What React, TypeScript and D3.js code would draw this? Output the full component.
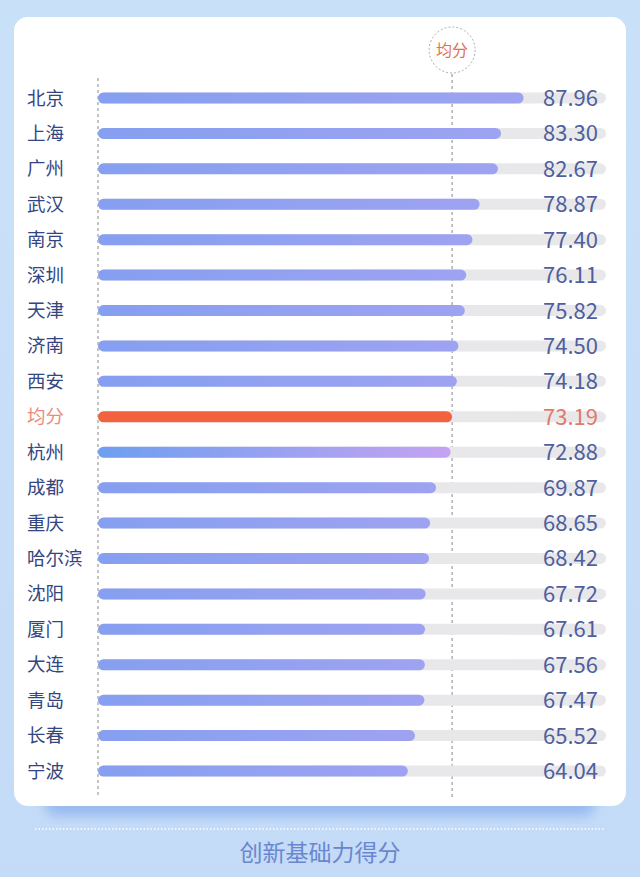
import React from "react";
import * as d3 from "d3";

const cities = ["北京","上海","广州","武汉","南京","深圳","天津","济南","西安","均分","杭州","成都","重庆","哈尔滨","沈阳","厦门","大连","青岛","长春","宁波"];
const scores = [87.96,83.30,82.67,78.87,77.40,76.11,75.82,74.50,74.18,73.19,72.88,69.87,68.65,68.42,67.72,67.61,67.56,67.47,65.52,64.04];
const avgLabel = "均分";
const avgValue = 73.19;
const highlightCity = "杭州";
const title = "创新基础力得分";

const W = 640, H = 877;
const FONT = "'Noto Sans CJK SC', 'Noto Sans', sans-serif";

export default function App() {
  const x = d3.scaleLinear().domain([0, 105]).range([98, 606]);
  const y = d3.scalePoint<string>().domain(cities).range([98, 771]);
  const barH = 11;
  return (
    <div style={{ position: "absolute", left: 0, top: 0 }}>
      <svg width={W} height={H} style={{ display: "block" }}>
        <defs>
          <linearGradient id="bg" x1="0" y1="0" x2="0" y2="1">
            <stop offset="0" stopColor="#c9e1f8" />
            <stop offset="1" stopColor="#c3dbf6" />
          </linearGradient>
          <linearGradient id="barG" x1="0" y1="0" x2="1" y2="0">
            <stop offset="0" stopColor="#869ff0" />
            <stop offset="1" stopColor="#9ea3f1" />
          </linearGradient>
          <linearGradient id="hiG" x1="0" y1="0" x2="1" y2="0">
            <stop offset="0" stopColor="#6e9ff0" />
            <stop offset="1" stopColor="#c4a3f2" />
          </linearGradient>
          <filter id="sh" x="-10%" y="-30%" width="120%" height="160%">
            <feGaussianBlur stdDeviation="6" />
          </filter>
        </defs>
        <rect x={0} y={0} width={W} height={H} fill="url(#bg)" />
        <rect x={45} y={790} width={550} height={26} rx={12} fill="#98b9f2" filter="url(#sh)" />
        <rect x={14} y={17} width={612} height={789} rx={14} fill="#ffffff" />
        <line x1={x(0)} x2={x(0)} y1={78} y2={797} stroke="#888" strokeWidth={1} strokeDasharray="3,3" />
        <line x1={x(avgValue)} x2={x(avgValue)} y1={74} y2={797} stroke="#888" strokeWidth={1} strokeDasharray="3,3" />
        <circle cx={x(avgValue)} cy={50} r={23} fill="none" stroke="#aaa" strokeWidth={1} strokeDasharray="2,2" />
        <text x={x(avgValue)} y={56} textAnchor="middle" fontFamily={FONT} fontSize={16} fill="#e4704f">{avgLabel}</text>
        {cities.map((c, i) => {
          const cy = y(c)!;
          const v = scores[i];
          const isAvg = c === avgLabel;
          const isHi = c === highlightCity;
          const fill = isAvg ? "#f2623e" : isHi ? "url(#hiG)" : "url(#barG)";
          return (
            <g key={c}>
              <rect x={x(0)} y={cy - barH / 2} width={x(105) - x(0)} height={barH} rx={5.5} fill="#e8e8ea" />
              <rect x={x(0)} y={cy - barH / 2} width={x(v) - x(0)} height={barH} rx={5.5} fill={fill} />
              <text x={27} y={cy + 6.5} fontFamily={FONT} fontSize={18.5} fill={isAvg ? "#e98a80" : "#34467f"}>{c}</text>
              <text x={598} y={cy + 8} textAnchor="end" fontFamily={FONT} fontSize={22} fill={isAvg ? "#e07a6a" : "#4f5f9e"}>{v.toFixed(2)}</text>
            </g>
          );
        })}
        <line x1={35} x2={605} y1={829} y2={829} stroke="#ffffff" strokeWidth={1.5} strokeDasharray="1.5,2" />
        <text x={320} y={861} textAnchor="middle" fontFamily={FONT} fontSize={23} fill="#6a86cf">{title}</text>
      </svg>
    </div>
  );
}
